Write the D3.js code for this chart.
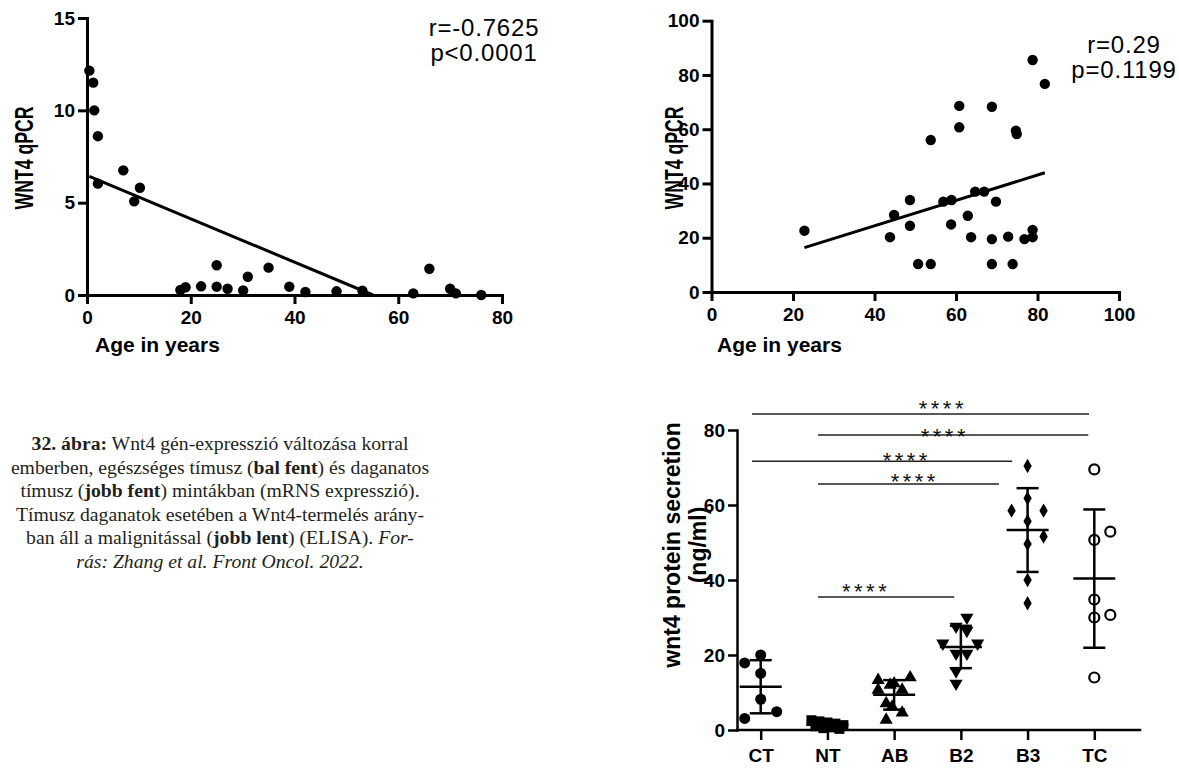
<!DOCTYPE html>
<html>
<head>
<meta charset="utf-8">
<script src="https://cdn.jsdelivr.net/npm/d3@7"></script>
<style>
  body { margin: 0; background: #fff; }
  svg { display: block; }
</style>
</head>
<body>
<svg id="fig" width="1179" height="769"></svg>
<script>
// ---- data ----
// top left: healthy thymus, age vs WNT4 qPCR
var healthyAge  = [0.45, 1.2, 1.4, 2.1, 2.1, 7.0, 9.1, 10.2, 18, 19, 22, 25, 25, 27.1, 30.1, 31, 35, 39, 42.1, 48.1, 53.1, 62.9, 66, 70, 71.1, 76];
var healthyWnt4 = [12.15, 11.5, 10.0, 8.6, 6.03, 6.75, 5.07, 5.81, 0.27, 0.42, 0.47, 1.61, 0.45, 0.34, 0.25, 0.99, 1.48, 0.45, 0.16, 0.2, 0.23, 0.09, 1.42, 0.34, 0.09, 0];
var healthyStats = ['r=-0.7625', 'p<0.0001'];

// top right: thymic tumours, age vs WNT4 qPCR
var tumorAge  = [22.8, 43.8, 44.8, 48.7, 48.7, 50.7, 53.8, 53.8, 60.8, 60.8, 68.8, 74.7, 74.9, 78.8, 81.8,
                 56.9, 58.9, 64.7, 66.9, 69.8, 62.9, 58.8, 63.7, 68.8, 72.8, 76.8, 78.8, 78.8, 68.8, 73.9];
var tumorWnt4 = [22.6, 20.2, 28.4, 33.9, 24.4, 10.3, 10.3, 56.0, 68.6, 60.7, 68.3, 59.5, 58.2, 85.5, 76.7,
                 33.3, 33.9, 37.0, 37.0, 33.3, 28.1, 24.9, 20.2, 19.5, 20.4, 19.5, 22.9, 20.2, 10.3, 10.3];
var tumorStats = ['r=0.29', 'p=0.1199'];

// bottom right: ELISA, wnt4 secretion per group
var groups = ['CT', 'NT', 'AB', 'B2', 'B3', 'TC'];
var ctValues = [17.9, 20.0, 15.1, 8.2, 4.9, 3.1];
var ntValues = [2.6, 2.3, 2.0, 1.7, 1.3, 1.0, 0.7, 0.5, 0.3];
var abValues = [13.3, 14.0, 12.0, 12.4, 10.7, 10.7, 7.1, 6.2, 4.6, 2.7];
var b2Values = [30.0, 27.6, 26.5, 23.1, 23.1, 20.4, 20.4, 15.7, 12.4];
var b3Values = [70.4, 61.8, 58.5, 58.5, 55.7, 51.6, 49.6, 40.0, 33.8];
var tcValues = [69.5, 52.9, 50.7, 34.8, 30.0, 30.7, 14.0];
// side-by-side slot of each point (scatter spreading)
var ctSlots = [-2, 0, 0, 0, 2, -2];
var ntSlots = [-2, -1, 0, 1, 2, -1.5, 0.5, -0.5, 1.5];
var abSlots = [-2, 2, -0.5, 0, -2, 1, -1, -0.25, 1, -1];
var b2Slots = [0.75, -0.6, 0.75, -2.25, 2.1, -0.6, 0.75, -0.6, -0.6];
var b3Slots = [0, 0, -2, 2, 0, 2, 0, 0, 0];
var tcSlots = [0, 2, 0, 0, 0, 2, 0];

// significance brackets (category index for ends, value for level)
var sigStart = [-0.13, 0.86, -0.13, 0.86, 0.86];
var sigEnd   = [4.92, 4.91, 3.77, 3.57, 2.90];
var sigLevel = [84.3, 78.7, 71.7, 65.6, 35.5];
var sigStarAt = [2.73, 2.76, 2.19, 2.31, 1.58];
var sigStarLevel = [87.2, 79.5, 73.1, 67.5, 38.2];
var sigLabel = ['****', '****', '****', '****', '****'];

var ageTicks = [0, 20, 40, 60, 80];
var ageTicks2 = [0, 20, 40, 60, 80, 100];
var qpcrTicks = [0, 5, 10, 15];
var qpcrTicks2 = [0, 20, 40, 60, 80, 100];
var elisaTicks = [0, 20, 40, 60, 80];

// caption, segments per line: [text, style]
var caption = [
  [['32. ábra:', 'b'], [' Wnt4 gén-expresszió változása korral', '']],
  [['emberben, egészséges tímusz (', ''], ['bal fent', 'b'], [') és daganatos', '']],
  [['tímusz (', ''], ['jobb fent', 'b'], [') mintákban (mRNS expresszió).', '']],
  [['Tímusz daganatok esetében a Wnt4-termelés arány-', '']],
  [['ban áll a malignitással (', ''], ['jobb lent', 'b'], [') (ELISA). ', ''], ['For-', 'i']],
  [['rás: Zhang et al. Front Oncol. 2022.', 'i']]
];

// ---- drawing ----
var sans = '"Liberation Sans", Arial, Helvetica, sans-serif';
var svg = d3.select('#fig');

function styleAxis(g, w) {
  g.attr('font-family', sans).attr('font-size', 19).attr('font-weight', 'bold');
  g.select('.domain').attr('stroke', '#000').attr('stroke-width', w).attr('stroke-linecap', 'square');
  g.selectAll('.tick line').attr('stroke', '#000').attr('stroke-width', w);
  g.selectAll('.tick text').attr('fill', '#000');
}

function regression(xs, ys) {
  var mx = d3.mean(xs), my = d3.mean(ys);
  var sxy = 0, sxx = 0;
  xs.forEach(function (x, i) {
    sxy += (x - mx) * (ys[i] - my);
    sxx += (x - mx) * (x - mx);
  });
  var slope = sxy / sxx;
  return { slope: slope, intercept: my - slope * mx };
}

function scatterPanel(o) {
  var g = svg.append('g');

  g.append('g')
    .attr('transform', 'translate(0,' + o.y.range()[0] + ')')
    .call(d3.axisBottom(o.x).tickValues(o.xTicks).tickSizeInner(9).tickSizeOuter(0).tickPadding(7))
    .call(styleAxis, 3);

  g.append('g')
    .attr('transform', 'translate(' + o.x.range()[0] + ',0)')
    .call(d3.axisLeft(o.y).tickValues(o.yTicks).tickSizeInner(9).tickSizeOuter(0).tickPadding(3))
    .call(styleAxis, 3);

  // regression line, clipped at the x axis like in the original
  var fit = regression(o.xs, o.ys);
  var x0 = d3.min(o.xs), x1 = d3.max(o.xs);
  if (fit.slope < 0) x1 = Math.min(x1, -fit.intercept / fit.slope);
  g.append('line')
    .attr('x1', o.x(x0)).attr('y1', o.y(fit.intercept + fit.slope * x0))
    .attr('x2', o.x(x1)).attr('y2', o.y(fit.intercept + fit.slope * x1))
    .attr('stroke', '#000').attr('stroke-width', 3);

  g.selectAll('circle.pt').data(o.xs).enter().append('circle')
    .attr('class', 'pt')
    .attr('cx', function (d) { return o.x(d); })
    .attr('cy', function (d, i) { return o.y(o.ys[i]); })
    .attr('r', 5.2)
    .attr('fill', '#000');

  // axis titles
  g.append('text')
    .attr('transform', 'translate(' + o.yTitleX + ',158) rotate(-90) scale(0.68,1)')
    .attr('text-anchor', 'middle')
    .attr('font-family', sans).attr('font-weight', 'bold').attr('font-size', 26)
    .text('WNT4 qPCR');

  g.append('text')
    .attr('x', o.xTitleX).attr('y', 352)
    .attr('font-family', sans).attr('font-weight', 'bold').attr('font-size', 21)
    .text('Age in years');

  // correlation stats, one text block of two lines
  var st = g.append('text')
    .attr('text-anchor', 'middle')
    .attr('font-family', sans).attr('font-size', 24).attr('letter-spacing', 0.8);
  o.stats.forEach(function (d, i) {
    st.append('tspan').attr('x', o.statX).attr('y', o.statY + i * 25).text(d);
  });
}

scatterPanel({
  x: d3.scaleLinear().domain([0, 80]).range([87, 502]),
  y: d3.scaleLinear().domain([0, 15]).range([295, 18]),
  xTicks: ageTicks, yTicks: qpcrTicks,
  xs: healthyAge, ys: healthyWnt4, stats: healthyStats,
  yTitleX: 33, xTitleX: 95, statX: 484, statY: 36
});

scatterPanel({
  x: d3.scaleLinear().domain([0, 100]).range([711.5, 1119]),
  y: d3.scaleLinear().domain([0, 100]).range([292, 20.7]),
  xTicks: ageTicks2, yTicks: qpcrTicks2,
  xs: tumorAge, ys: tumorWnt4, stats: tumorStats,
  yTitleX: 683, xTitleX: 717, statX: 1124, statY: 53
});

// ---- ELISA dot plot ----
var gx = d3.scalePoint().domain(groups).range([760.7, 1094.3]);
var idx = d3.scaleLinear().domain([0, groups.length - 1]).range([760.7, 1094.3]);
var gy = d3.scaleLinear().domain([0, 80]).range([730, 430]);
var slot = 8;
var axisLeftX = 737, axisRightX = 1140;

var values = [ctValues, ntValues, abValues, b2Values, b3Values, tcValues];
var slots = [ctSlots, ntSlots, abSlots, b2Slots, b3Slots, tcSlots];
var markers = ['circle', 'square', 'triangle', 'triangleDown', 'diamond', 'open'];

var ge = svg.append('g');

var xa = ge.append('g')
  .attr('transform', 'translate(0,' + gy(0) + ')')
  .call(d3.axisBottom(gx).tickSizeInner(10).tickSizeOuter(0).tickPadding(9))
  .call(styleAxis, 2.5);
xa.select('.domain').attr('d', 'M' + axisLeftX + ',0H' + axisRightX);

ge.append('g')
  .attr('transform', 'translate(' + axisLeftX + ',0)')
  .call(d3.axisLeft(gy).tickValues(elisaTicks).tickSizeInner(9).tickSizeOuter(0).tickPadding(3))
  .call(styleAxis, 2.5);

var ytitle = ge.append('text')
  .attr('transform', 'translate(680,545) rotate(-90)')
  .attr('text-anchor', 'middle')
  .attr('font-family', sans).attr('font-weight', 'bold').attr('font-size', 23);
ytitle.append('tspan').attr('x', 0).attr('dy', 0).text('wnt4 protein secretion');
ytitle.append('tspan').attr('x', 0).attr('dy', 26).text('(ng/ml)');

// significance brackets
sigLevel.forEach(function (lv, i) {
  ge.append('line')
    .attr('x1', idx(sigStart[i])).attr('x2', idx(sigEnd[i]))
    .attr('y1', gy(lv)).attr('y2', gy(lv))
    .attr('stroke', '#222').attr('stroke-width', 1.5);
  ge.append('text')
    .attr('x', idx(sigStarAt[i]))
    .attr('y', gy(sigStarLevel[i]) + 12.5)
    .attr('text-anchor', 'middle')
    .attr('font-family', sans).attr('font-size', 22).attr('letter-spacing', 3.5)
    .attr('fill', '#111')
    .text(sigLabel[i]);
});

// points, mean and SD per group
groups.forEach(function (grp, gi) {
  var vals = values[gi];
  var cx = gx(grp);
  var m = d3.mean(vals), sd = d3.deviation(vals);
  var type = markers[gi];

  var pts = ge.append('g');
  vals.forEach(function (v, j) {
    var px = cx + slots[gi][j] * slot, py = gy(v);
    if (type === 'circle' || type === 'open') {
      pts.append('circle').attr('cx', px).attr('cy', py).attr('r', type === 'open' ? 5 : 5.5)
        .attr('fill', type === 'open' ? '#fff' : '#000')
        .attr('stroke', '#000').attr('stroke-width', type === 'open' ? 2.2 : 0);
    } else {
      var sym = { square: d3.symbolSquare, triangle: d3.symbolTriangle,
                  triangleDown: d3.symbolTriangle, diamond: d3.symbolDiamond }[type];
      var size = { square: 100, triangle: 75, triangleDown: 75, diamond: 60 }[type];
      pts.append('path')
        .attr('d', d3.symbol().type(sym).size(size))
        .attr('transform', 'translate(' + px + ',' + py + ')' + (type === 'triangleDown' ? ' rotate(180)' : ''))
        .attr('fill', '#000');
    }
  });

  var eb = ge.append('g').attr('stroke', '#000').attr('stroke-width', 2.5);
  var lo = Math.max(0, m - sd), hi = m + sd;
  eb.append('line').attr('x1', cx - 21).attr('x2', cx + 21).attr('y1', gy(m)).attr('y2', gy(m));
  eb.append('line').attr('x1', cx).attr('x2', cx).attr('y1', gy(hi)).attr('y2', gy(lo));
  eb.append('line').attr('x1', cx - 11).attr('x2', cx + 11).attr('y1', gy(hi)).attr('y2', gy(hi));
  eb.append('line').attr('x1', cx - 11).attr('x2', cx + 11).attr('y1', gy(lo)).attr('y2', gy(lo));
});

// ---- caption ----
var cap = svg.append('text')
  .attr('text-anchor', 'middle')
  .attr('font-family', '"Liberation Serif", "Times New Roman", serif')
  .attr('font-size', 19.7)
  .attr('fill', '#231f20');
caption.forEach(function (line, i) {
  line.forEach(function (seg, k) {
    var s = cap.append('tspan').text(seg[0]);
    if (k === 0) s.attr('x', 220).attr('y', 450 + i * 23.5);
    if (seg[1] === 'b') s.attr('font-weight', 'bold');
    if (seg[1] === 'i') s.attr('font-style', 'italic');
  });
});
</script>
</body>
</html>
